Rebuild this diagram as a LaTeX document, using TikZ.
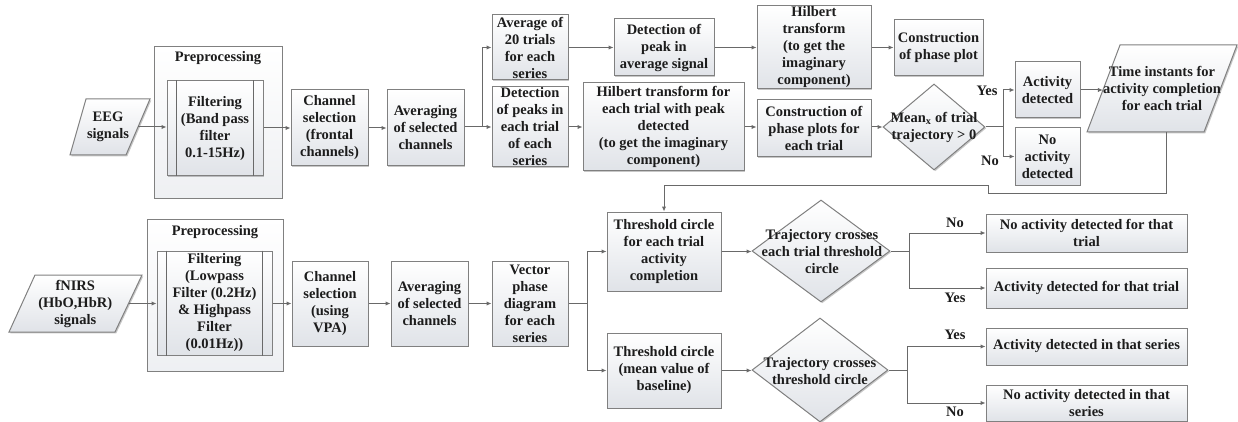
\documentclass[tikz,border=0pt]{standalone}
\usepackage{fontspec}
\setmainfont{Liberation Serif}
\usetikzlibrary{arrows.meta,shapes.geometric,shadows}
\definecolor{boxline}{RGB}{128,128,128}
\definecolor{linec}{RGB}{105,105,105}
\definecolor{boxbot}{RGB}{224,227,232}
\definecolor{txtc}{RGB}{28,28,28}
\begin{document}
\begin{tikzpicture}[x=1pt,y=-1pt,
  every node/.style={font=\fontsize{14.5}{17}\selectfont\bfseries, text=txtc, align=center, inner sep=0pt},
  shad/.style={drop shadow={shadow xshift=1.3pt,shadow yshift=-1.3pt,opacity=0.22,fill=black}},
  box/.style={rectangle, draw=boxline, line width=1pt, top color=white, bottom color=boxbot, shad},
  outer/.style={rectangle, draw=boxline, line width=1pt, top color=white, bottom color=boxbot!55, shad},
  dia/.style={diamond, draw=boxline, line width=1pt, top color=white, bottom color=boxbot, shad},
  para/.style={draw=boxline, line width=1pt, top color=white, bottom color=boxbot, shad},
  plain/.style={draw=linec, line width=1pt},
  arr/.style={draw=linec, line width=1pt, -{Latex[length=5pt,width=4.5pt]}},
  lbl/.style={font=\fontsize{14.5}{17}\selectfont\bfseries}
]
\useasboundingbox (0,0) rectangle (1238,422);

% ---------------- EEG row ----------------
\path[para] (70,155) -- (86,99) -- (150,99) -- (126,155) -- cycle;
\node[minimum width=60pt, minimum height=56pt] (eeg) at (108,127) {EEG\\signals};

\node[outer, minimum width=128pt, minimum height=151pt] (pre1) at (218,122.5) {};
\node (pre1lbl) at (218,58) {Preprocessing};
\node[box, minimum width=96pt, minimum height=95pt] (filt1) at (215,128.5) {Filtering\\(Band pass\\filter\\0.1-15Hz)};
\draw[plain] ([xshift=10pt]filt1.north west) -- ([xshift=10pt]filt1.south west);
\draw[plain] ([xshift=-10pt]filt1.north east) -- ([xshift=-10pt]filt1.south east);

\node[box, minimum width=77pt, minimum height=76pt] (ch1) at (329.5,128) {Channel\\selection\\(frontal\\channels)};
\node[box, minimum width=77pt, minimum height=76pt] (avg1) at (425.5,128) {Averaging\\of selected\\channels};

\node[box, minimum width=76pt, minimum height=65pt] (avg20) at (530,47.5) {Average of\\20 trials\\for each\\series};
\node[box, minimum width=76pt, minimum height=80pt] (detpeaks) at (530,127) {Detection\\of peaks in\\each trial\\of each\\series};
\node[box, minimum width=100pt, minimum height=57pt] (detpeak) at (664,47.5) {Detection of\\peak in\\average signal};
\node[box, minimum width=114pt, minimum height=83pt] (hilb1) at (814,47.5) {Hilbert\\transform\\(to get the\\imaginary\\component)};
\node[box, minimum width=161pt, minimum height=88pt] (hilb2) at (663.5,127) {Hilbert transform for\\each trial with peak\\detected\\(to get the imaginary\\component)};
\node[box, minimum width=89pt, minimum height=56pt] (phplot) at (938.5,48) {Construction\\of phase plot};
\node[box, minimum width=114pt, minimum height=57pt] (phplots) at (814,128.5) {Construction of\\phase plots for\\each trial};

\node[dia, minimum width=102pt, minimum height=86pt] (mean) at (934,127) {};
\node (meantxt) at (934,127) {Mean\textsubscript{x} of trial\\trajectory > 0};

\node[box, minimum width=65pt, minimum height=56pt] (actdet) at (1047.5,90) {Activity\\detected};
\node[box, minimum width=65pt, minimum height=57pt] (noact) at (1047.5,156.5) {No\\activity\\detected};

\path[para] (1087,132) -- (1120,45) -- (1237,45) -- (1204,132) -- cycle;
\node[minimum width=117pt, minimum height=87pt] (timeinst) at (1162,88.5) {Time instants for\\activity completion\\for each trial};

% ---------------- fNIRS row ----------------
\path[para] (9,332) -- (35,275) -- (142,275) -- (115,332) -- cycle;
\node[minimum width=106.5pt, minimum height=57pt] (fnirs) at (75.25,303.5) {fNIRS\\(HbO,HbR)\\signals};

\node[outer, minimum width=136pt, minimum height=152pt] (pre2) at (215,295) {};
\node (pre2lbl) at (215,232) {Preprocessing};
\node[box, minimum width=115pt, minimum height=104pt] (filt2) at (214.5,303) {Filtering\\(Lowpass\\Filter (0.2Hz)\\\& Highpass\\Filter\\(0.01Hz))};
\draw[plain] ([xshift=10pt]filt2.north west) -- ([xshift=10pt]filt2.south west);
\draw[plain] ([xshift=-10pt]filt2.north east) -- ([xshift=-10pt]filt2.south east);

\node[box, minimum width=76pt, minimum height=85pt] (ch2) at (330,303.5) {Channel\\selection\\(using\\VPA)};
\node[box, minimum width=77pt, minimum height=85pt] (avg2) at (429.5,303.5) {Averaging\\of selected\\channels};
\node[box, minimum width=76pt, minimum height=85pt] (vpd) at (530,303.5) {Vector\\phase\\diagram\\for each\\series};

\node[box, minimum width=114pt, minimum height=79pt] (thr1) at (664,251.5) {Threshold circle\\for each trial\\activity\\completion};
\node[box, minimum width=114pt, minimum height=75pt] (thr2) at (664,370.5) {Threshold circle\\(mean value of\\baseline)};

\node[dia, minimum width=138pt, minimum height=102pt] (dia1) at (821,251) {};
\node (dia1txt) at (822,251.5) {Trajectory crosses\\each trial threshold\\circle};
\node[dia, minimum width=136pt, minimum height=104pt] (dia2) at (820,370) {};
\node (dia2txt) at (820,371) {Trajectory crosses\\threshold circle};

\node[box, minimum width=201pt, minimum height=38pt] (no1) at (1086.5,233) {No activity detected for that\\trial};
\node[box, minimum width=201pt, minimum height=40pt] (yes1) at (1086.5,288) {Activity detected for that trial};
\node[box, minimum width=201pt, minimum height=37pt] (yes2) at (1086.5,346.5) {Activity detected in that series};
\node[box, minimum width=201pt, minimum height=36pt] (no2) at (1086.5,403) {No activity detected in that\\series};

% ---------------- labels ----------------
\node[lbl] (ly0) at (987,91) {Yes};
\node[lbl] (ln0) at (990,161) {No};
\node[lbl] (ln1) at (955,223) {No};
\node[lbl] (ly1) at (955,298) {Yes};
\node[lbl] (ly2) at (955,335) {Yes};
\node[lbl] (ln2) at (955,412) {No};

% ---------------- connectors ----------------
\coordinate (b1) at (482,127);
\coordinate (b2) at (1003,127);
\coordinate (b3) at (587,303.5);
\coordinate (b4) at (909,251);
\coordinate (b5) at (907,370);
\coordinate (fb1) at (988,193);
\coordinate (fb2) at (988,185);

\draw[arr] (eeg.east) -- (eeg.east -| filt1.west);
\draw[arr] (ch1.west -| filt1.east) -- (ch1.west);
\draw[arr] (ch1.east) -- (avg1.west);
\draw[plain] (avg1.east |- b1) -- (b1);
\draw[arr] (b1) |- (avg20.west);
\draw[arr] (b1) -- (b1 -| detpeaks.west);
\draw[arr] (avg20.east) -- (avg20.east -| detpeak.west);
\draw[arr] (detpeak.east) -- (detpeak.east -| hilb1.west);
\draw[arr] (hilb1.east) -- (hilb1.east -| phplot.west);
\draw[arr] (detpeaks.east) -- (detpeaks.east -| hilb2.west);
\draw[arr] (hilb2.east) -- (hilb2.east -| phplots.west);
\draw[arr] (phplots.east |- mean.west) -- (mean.west);
\draw[plain] (mean.east) -- (b2);
\draw[arr] (b2) |- (actdet.west);
\draw[arr] (b2) |- (noact.west);
\draw[arr] (actdet.east) -- (actdet.east -| timeinst.west);
\draw[arr] ([xshift=4pt]timeinst.south) |- (fb1) -- (fb2) -| (thr1.north);

\draw[arr] (fnirs.east) -- (fnirs.east -| filt2.west);
\draw[arr] (ch2.west -| filt2.east) -- (ch2.west);
\draw[arr] (ch2.east) -- (avg2.west);
\draw[arr] (avg2.east) -- (vpd.west);
\draw[plain] (vpd.east) -- (b3);
\draw[arr] (b3) |- (thr1.west);
\draw[arr] (b3) |- (thr2.west);
\draw[arr] (thr1.east) -- (thr1.east -| dia1.west);
\draw[arr] (thr2.east) -- (thr2.east -| dia2.west);
\draw[plain] (dia1.east) -- (b4);
\draw[arr] (b4) |- (no1.west);
\draw[arr] (b4) |- (yes1.west);
\draw[plain] (dia2.east) -- (b5);
\draw[arr] (b5) |- (yes2.west);
\draw[arr] (b5) |- (no2.west);
\end{tikzpicture}
\end{document}
